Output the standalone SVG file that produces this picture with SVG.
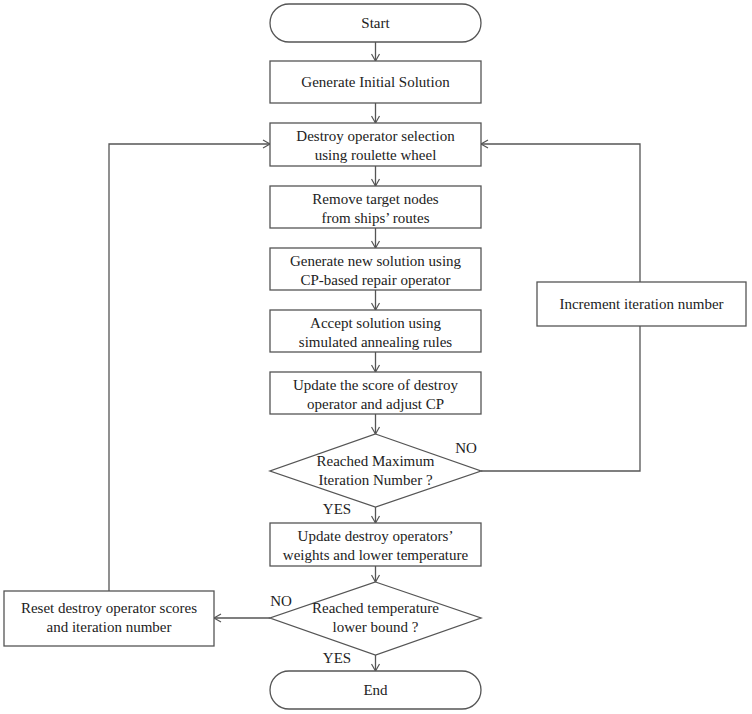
<svg xmlns="http://www.w3.org/2000/svg" width="752" height="714" viewBox="0 0 752 714">
<style>
.s{fill:#fff;stroke:#555;stroke-width:1.3}
.t{font-family:"Liberation Serif",serif;font-size:15px;fill:#222;text-anchor:middle}
.c{fill:none;stroke:#555;stroke-width:1.3}
</style>
<defs><marker id="a" markerWidth="10" markerHeight="10" refX="8" refY="5" orient="auto" markerUnits="userSpaceOnUse"><path d="M1,1 L8,5 L1,9" fill="none" stroke="#555" stroke-width="1.2"/></marker></defs>
<rect width="752" height="714" fill="#fff"/>
<g id="connectors">
<path class="c" marker-end="url(#a)" d="M375.5,42V61"/>
<path class="c" marker-end="url(#a)" d="M375.5,103V123"/>
<path class="c" marker-end="url(#a)" d="M375.5,166V186"/>
<path class="c" marker-end="url(#a)" d="M375.5,228V248"/>
<path class="c" marker-end="url(#a)" d="M375.5,290V310"/>
<path class="c" marker-end="url(#a)" d="M375.5,352V372"/>
<path class="c" marker-end="url(#a)" d="M375.5,414V434"/>
<path class="c" marker-end="url(#a)" d="M375.5,507V523"/>
<path class="c" marker-end="url(#a)" d="M375.5,566V582"/>
<path class="c" marker-end="url(#a)" d="M375.5,655V671"/>
<path class="c" d="M481,471H640V326"/>
<path class="c" marker-end="url(#a)" d="M640,282V144H481"/>
<path class="c" marker-end="url(#a)" d="M270,618H214"/>
<path class="c" marker-end="url(#a)" d="M109,591V144H270"/>
<text class="t" x="466" y="453">NO</text>
<text class="t" x="337" y="514">YES</text>
<text class="t" x="281" y="606">NO</text>
<text class="t" x="337" y="663">YES</text>
</g>
<g id="start"><rect class="s" x="270" y="4" width="211" height="38" rx="19"/><text class="t" x="375.5" y="28">Start</text></g>
<g id="init"><rect class="s" x="270" y="61" width="211" height="42"/><text class="t" x="375.5" y="87">Generate Initial Solution</text></g>
<g id="destroy"><rect class="s" x="270" y="123" width="211" height="43"/><text class="t" x="375.5" y="141">Destroy operator selection</text><text class="t" x="375.5" y="160">using roulette wheel</text></g>
<g id="remove"><rect class="s" x="270" y="186" width="211" height="42"/><text class="t" x="375.5" y="204">Remove target nodes</text><text class="t" x="375.5" y="223">from ships’ routes</text></g>
<g id="repair"><rect class="s" x="270" y="248" width="211" height="42"/><text class="t" x="375.5" y="266">Generate new solution using</text><text class="t" x="375.5" y="285">CP-based  repair operator</text></g>
<g id="accept"><rect class="s" x="270" y="310" width="211" height="42"/><text class="t" x="375.5" y="328">Accept solution using</text><text class="t" x="375.5" y="347">simulated annealing rules</text></g>
<g id="score"><rect class="s" x="270" y="372" width="211" height="42"/><text class="t" x="375.5" y="390">Update the score of destroy</text><text class="t" x="375.5" y="409">operator and  adjust CP</text></g>
<g id="maxiter"><polygon class="s" points="375.5,434 481,471 375.5,507 270,471"/><text class="t" x="375.5" y="466">Reached Maximum</text><text class="t" x="375.5" y="485">Iteration Number ?</text></g>
<g id="increment"><rect class="s" x="537" y="282" width="209" height="44"/><text class="t" x="641.5" y="309">Increment iteration number</text></g>
<g id="weights"><rect class="s" x="270" y="523" width="211" height="43"/><text class="t" x="375.5" y="541">Update destroy operators’</text><text class="t" x="375.5" y="560">weights and lower temperature</text></g>
<g id="temp"><polygon class="s" points="375.5,582 481,618 375.5,655 270,618"/><text class="t" x="375.5" y="613">Reached temperature</text><text class="t" x="375.5" y="632">lower bound ?</text></g>
<g id="reset"><rect class="s" x="4" y="591" width="210" height="55"/><text class="t" x="109" y="613">Reset destroy operator scores</text><text class="t" x="109" y="632">and iteration number</text></g>
<g id="end"><rect class="s" x="270" y="671" width="211" height="38" rx="19"/><text class="t" x="375.5" y="695">End</text></g>
</svg>
